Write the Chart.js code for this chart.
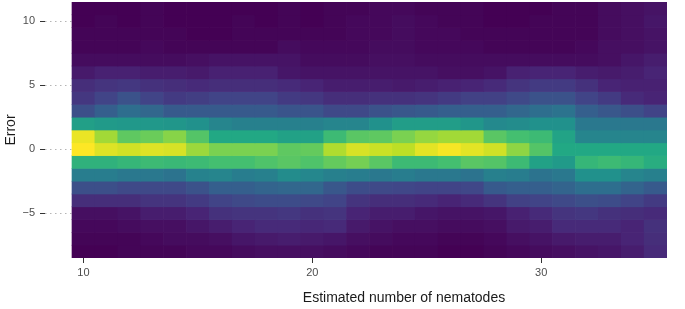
<!DOCTYPE html>
<html>
<head>
<meta charset="utf-8">
<script src="https://cdn.jsdelivr.net/npm/chart.js@4/dist/chart.umd.min.js"></script>
<style>
  body { margin: 0; background: #fff; }
  #wrap { width: 685px; height: 309px; position: relative; }
</style>
</head>
<body>
<div id="wrap"><canvas id="heat"></canvas></div>
<script>
// estimated number of nematodes (x bins) and error (y bins)
var xBins = [10,11,12,13,14,15,16,17,18,19,20,21,22,23,24,25,26,27,28,29,30,31,32,33,34,35];
var yBins = [11,10,9,8,7,6,5,4,3,2,1,0,-1,-2,-3,-4,-5,-6,-7,-8];
var xTicks = [10, 20, 30];
var yTicks = [-5, 0, 5, 10];

// relative density per cell (0-100), one array per error row, left to right
var err11 = [0,0,0,1,0,0,0,0,0, 1,0,1,1,2,2,1,1,1, 0,0,0,1,1,3,4,5];
var err10 = [0,1,0,1,0,0,0,1,0, 1,0,1,2,2,3,2,1,1, 0,0,1,1,1,3,4,6];
var err9  = [1,1,1,1,1,0,0,1,1, 1,1,1,2,2,3,2,2,1, 1,1,1,1,1,3,4,5];
var err8  = [1,1,1,2,1,1,1,1,1, 3,2,2,2,3,3,2,2,2, 1,1,1,1,2,4,4,5];
var err7  = [3,3,3,3,3,4,5,5,5, 5,3,3,3,4,4,3,3,3, 3,3,3,3,3,4,6,8];
var err6  = [7,9,9,8,8,7,9,9,9, 6,5,5,5,5,5,5,4,4, 5,9,10,10,8,7,8,10];
var err5  = [13,15,16,14,13,12,13,13,13, 12,10,8,8,8,7,8,9,10, 12,15,17,17,14,10,9,9];
var err4  = [16,20,25,20,17,18,20,20,20, 17,16,13,13,14,14,15,17,19, 19,22,25,25,20,17,12,10];
var err3  = [24,30,36,33,28,28,28,28,28, 26,26,22,22,25,27,28,30,30, 30,33,36,38,30,27,24,20];
var err2  = [56,54,53,53,52,50,45,43,43, 43,43,45,45,50,55,55,55,52, 47,48,50,50,40,40,40,40];
var err1  = [97,86,75,77,82,73,60,60,60, 57,57,68,74,75,80,84,86,86, 74,70,68,58,45,45,45,45];
var err0  = [100,95,93,95,94,85,80,80,80, 75,76,88,94,92,90,96,99,96, 93,83,73,60,60,60,60,60];
var errM1 = [64,64,66,68,67,68,70,70,72, 74,72,76,79,74,68,68,70,74, 73,68,57,54,66,68,66,62];
var errM2 = [42,42,40,40,38,44,45,42,43, 48,46,43,42,40,42,40,40,38, 43,42,38,40,50,50,45,43];
var errM3 = [24,24,22,22,22,25,30,30,32, 33,33,27,23,22,21,20,20,21, 28,30,30,32,36,36,32,28];
var errM4 = [13,13,13,15,15,17,20,22,23, 23,22,20,15,13,13,12,10,12, 15,19,20,22,24,23,20,17];
var errM5 = [4,4,5,8,8,10,14,15,15, 16,14,15,10,8,8,6,5,5, 6,9,12,15,16,14,13,12];
var errM6 = [2,2,3,4,4,6,8,10,12, 12,11,12,7,5,4,4,3,3, 4,7,8,12,12,12,10,14];
var errM7 = [1,1,1,2,3,3,4,6,7, 8,7,6,4,3,2,2,1,1, 2,4,5,7,8,8,10,13];
var errM8 = [0,0,1,1,1,2,2,3,4, 4,4,3,2,1,1,1,0,0, 1,2,3,4,5,6,8,12];

var rows = [err11,err10,err9,err8,err7,err6,err5,err4,err3,err2,err1,err0,
            errM1,errM2,errM3,errM4,errM5,errM6,errM7,errM8];

// viridis stops
var viridis = [[68,1,84],[72,36,117],[65,68,135],[53,95,141],[42,120,142],[33,145,140],
               [34,168,132],[68,191,112],[122,209,81],[189,223,38],[253,231,37]];

function colour(v) {
  var t = Math.max(0, Math.min(1, v / 100)) * (viridis.length - 1);
  var i = Math.min(Math.floor(t), viridis.length - 2);
  var f = t - i;
  var a = viridis[i], b = viridis[i + 1];
  return 'rgb(' + Math.round(a[0] + (b[0] - a[0]) * f) + ',' +
                  Math.round(a[1] + (b[1] - a[1]) * f) + ',' +
                  Math.round(a[2] + (b[2] - a[2]) * f) + ')';
}

var datasets = rows.map(function (vals, i) {
  return {
    data: xBins.map(function (x) { return { x: x, y: [yBins[i] - 0.5, yBins[i] + 0.5] }; }),
    backgroundColor: vals.map(colour),
    borderWidth: 0,
    barPercentage: 1,
    categoryPercentage: 1,
    grouped: false
  };
});

var xTitle = {
  id: 'xTitle',
  afterDraw: function (chart) {
    var ctx = chart.ctx;
    ctx.save();
    ctx.font = '14px "Liberation Sans", Arial, sans-serif';
    ctx.fillStyle = '#1a1a1a';
    ctx.textAlign = 'center';
    ctx.textBaseline = 'middle';
    ctx.fillText('Estimated number of nematodes', 404, 298);
    ctx.restore();
  }
};

var ctx = document.getElementById('heat');

var myHeatmap = new Chart(ctx, {
  type: 'bar',
  data: { datasets: datasets },
  plugins: [xTitle],
  options: {
    responsive: true,
    maintainAspectRatio: false,
    animation: false,
    layout: { padding: { top: 2, right: 18, bottom: 0, left: 0 } },
    plugins: { legend: { display: false }, tooltip: { enabled: false } },
    scales: {
      x: {
        type: 'linear',
        offset: false,
        min: 8.32,
        max: 35.5,
        border: { display: false },
        grid: { offset: false, drawOnChartArea: false, tickLength: 5, tickColor: '#333', tickWidth: 1 },
        afterBuildTicks: function (s) { s.ticks = xTicks.map(function (v) { return { value: v }; }); },
        afterFit: function (s) { s.height = 51; s.paddingLeft = 0; s.paddingRight = 0; },
        ticks: {
          padding: 3,
          maxRotation: 0,
          color: '#4d4d4d',
          font: { family: '"Liberation Sans", Arial, sans-serif', size: 11 }
        }
      },
      y: {
        type: 'linear',
        min: -8.5,
        max: 11.5,
        border: { display: false, dash: [1.5, 3.5] },
        grid: { color: '#b5b5b5', lineWidth: 1, tickLength: 5, tickColor: '#333', tickBorderDash: [] },
        afterBuildTicks: function (s) { s.ticks = yTicks.map(function (v) { return { value: v }; }); },
        afterFit: function (s) { s.width = 45; s.paddingTop = 0; s.paddingBottom = 0; },
        ticks: {
          padding: 5,
          color: '#4d4d4d',
          font: { family: '"Liberation Sans", Arial, sans-serif', size: 11 },
          callback: function (v) { return v < 0 ? '\u2212' + Math.abs(v) : String(v); }
        },
        title: {
          display: true,
          text: 'Error',
          color: '#1a1a1a',
          padding: { top: 3, bottom: 0 },
          font: { family: '"Liberation Sans", Arial, sans-serif', size: 14 }
        }
      }
    }
  }
});
</script>
</body>
</html>
